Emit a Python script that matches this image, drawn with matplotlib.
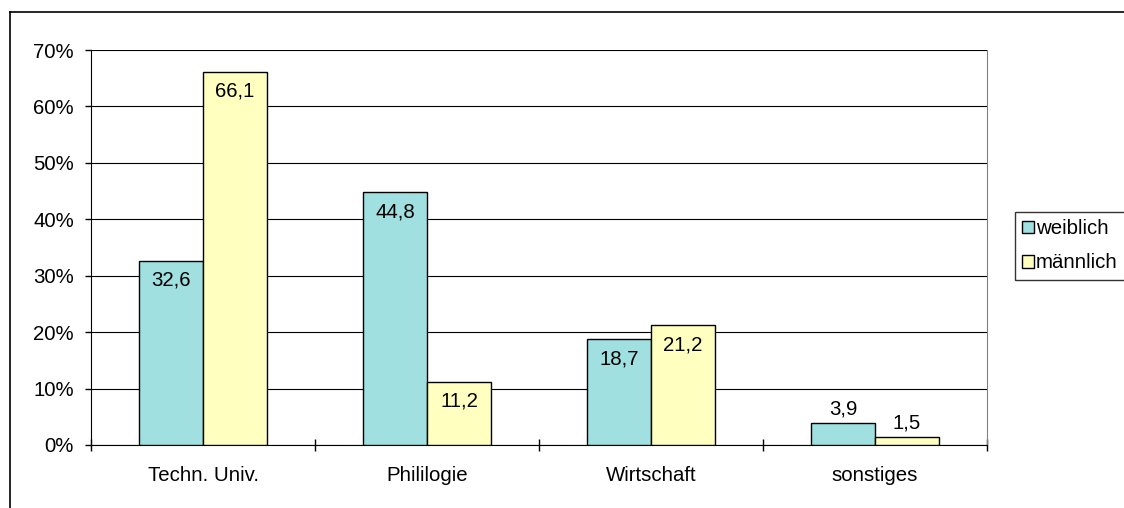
import matplotlib.pyplot as plt
import numpy as np
from matplotlib.lines import Line2D
from matplotlib.ticker import FuncFormatter

plt.rcParams['font.family'] = ['Liberation Sans', 'DejaVu Sans']

categories = ["Techn. Univ.", "Phililogie", "Wirtschaft", "sonstiges"]
weiblich = [32.6, 44.8, 18.7, 3.9]
maennlich = [66.1, 11.2, 21.2, 1.5]
series_names = ["weiblich", "männlich"]

teal = "#A0E0E0"
yellow = "#FFFFC0"
fs = 14.7

fig = plt.figure(figsize=(11.24, 5.08), dpi=100)
ax = fig.add_axes([91 / 1124, 63 / 508, 896 / 1124, 395 / 508])

x = np.arange(len(categories))
w = 0.286
b1 = ax.bar(x - w / 2, weiblich, w, color=teal, edgecolor="black", linewidth=1, zorder=3)
b2 = ax.bar(x + w / 2, maennlich, w, color=yellow, edgecolor="black", linewidth=1, zorder=3)

def fmt(v):
    return f"{v:.1f}".replace(".", ",")

for bars, vals in ((b1, weiblich), (b2, maennlich)):
    for r, v in zip(bars, vals):
        cx = r.get_x() + r.get_width() / 2
        # labels sit inside the bar top, or above it when the bar is too short
        dy = -14 if v > 8 else 10
        ax.annotate(fmt(v), (cx, v), xytext=(0, dy), textcoords="offset points",
                    ha="center", va="center", fontsize=fs, zorder=4)

ax.set_xlim(-0.5, len(categories) - 0.5)
ax.set_ylim(0, 70)
ax.set_yticks(np.arange(0, 71, 10))
ax.yaxis.set_major_formatter(FuncFormatter(lambda v, p: f"{int(v)}%"))
ax.yaxis.grid(True, color="black", linewidth=0.8, zorder=0)

ax.set_xticks(x)
ax.set_xticklabels(categories, fontsize=fs)
ax.set_xticks(np.arange(-0.5, len(categories), 1), minor=True)
ax.tick_params(axis="x", which="major", length=0, pad=15)
ax.tick_params(axis="x", which="minor", length=9, width=1, direction="inout")
ax.tick_params(axis="y", length=4.3, width=1, direction="out", labelsize=fs, pad=8)

ax.spines["right"].set_color("#808080")
ax.spines["top"].set_visible(False)
ax.spines["left"].set_color("black")
ax.spines["bottom"].set_color("black")

# outer chart frame, cut off on the right and bottom
fig.add_artist(Line2D([10 / 1124, 10 / 1124], [0, 1 - 12 / 508], color="black", linewidth=1.2))
fig.add_artist(Line2D([10 / 1124, 1], [1 - 12 / 508, 1 - 12 / 508], color="black", linewidth=1.2))

leg = fig.legend([b1, b2], series_names, loc="upper left",
                 bbox_to_anchor=(1015 / 1124, 1 - 212 / 508), fontsize=fs,
                 frameon=True, fancybox=False, handlelength=0.58, handleheight=0.58,
                 handletextpad=0.1, borderaxespad=0, borderpad=0.35, labelspacing=0.75)
leg.get_frame().set_edgecolor("black")
leg.get_frame().set_linewidth(1)

fig.savefig("out.png", dpi=100)
